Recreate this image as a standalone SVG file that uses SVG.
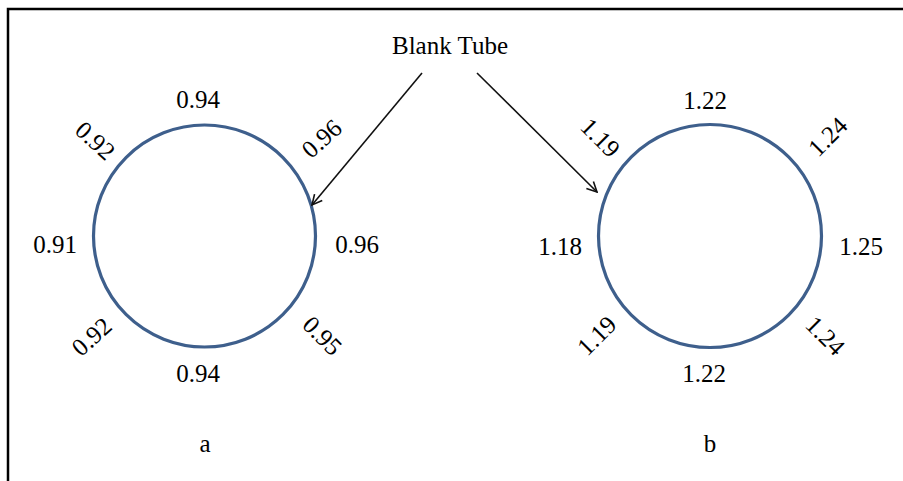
<svg xmlns="http://www.w3.org/2000/svg" width="903" height="481" viewBox="0 0 903 481">
<style>
.t{font-family:"Liberation Serif","Times New Roman",serif;font-size:25px;fill:#000;text-anchor:middle}
.c{fill:none;stroke:#3e5f8c;stroke-width:3.2}
.e{fill:none;stroke:#111;stroke-width:1.6}
</style>
<defs>
<marker id="ah" viewBox="0 0 12 12" refX="11" refY="6" markerWidth="12" markerHeight="12" markerUnits="userSpaceOnUse" orient="auto">
<path d="M1,1 L11,6 L1,11" fill="none" stroke="#111" stroke-width="1.6"/>
</marker>
</defs>
<rect width="903" height="481" fill="#fff"/>
<path d="M8,481 V9 H903" fill="none" stroke="#000" stroke-width="2.5"/>
<g id="blank-tube"><text class="t" x="450" y="54" font-size="27">Blank Tube</text></g>
<g id="tube-a">
<circle class="c" cx="204.5" cy="236" r="111"/>
<text class="t" x="198" y="108">0.94</text>
<text class="t" x="55" y="253">0.91</text>
<text class="t" x="357" y="253">0.96</text>
<text class="t" x="198" y="382">0.94</text>
<text class="t" transform="translate(95,141) rotate(42)" y="8">0.92</text>
<text class="t" transform="translate(322,139) rotate(-42)" y="8">0.96</text>
<text class="t" transform="translate(92,337) rotate(-42)" y="8">0.92</text>
<text class="t" transform="translate(322,336) rotate(45)" y="8">0.95</text>
<text class="t" x="205" y="452">a</text>
</g>
<g id="tube-b">
<circle class="c" cx="710" cy="236" r="111.5"/>
<text class="t" x="705" y="109">1.22</text>
<text class="t" x="560" y="255">1.18</text>
<text class="t" x="861" y="255">1.25</text>
<text class="t" x="704" y="382">1.22</text>
<text class="t" transform="translate(600,138) rotate(45)" y="8">1.19</text>
<text class="t" transform="translate(828,137) rotate(-45)" y="8">1.24</text>
<text class="t" transform="translate(597,336) rotate(-45)" y="8">1.19</text>
<text class="t" transform="translate(825,336) rotate(45)" y="8">1.24</text>
<text class="t" x="710" y="452">b</text>
</g>
<g id="connectors">
<line class="e" x1="422" y1="73" x2="312" y2="205" marker-end="url(#ah)"/>
<line class="e" x1="477" y1="73" x2="597" y2="192" marker-end="url(#ah)"/>
</g>
</svg>
